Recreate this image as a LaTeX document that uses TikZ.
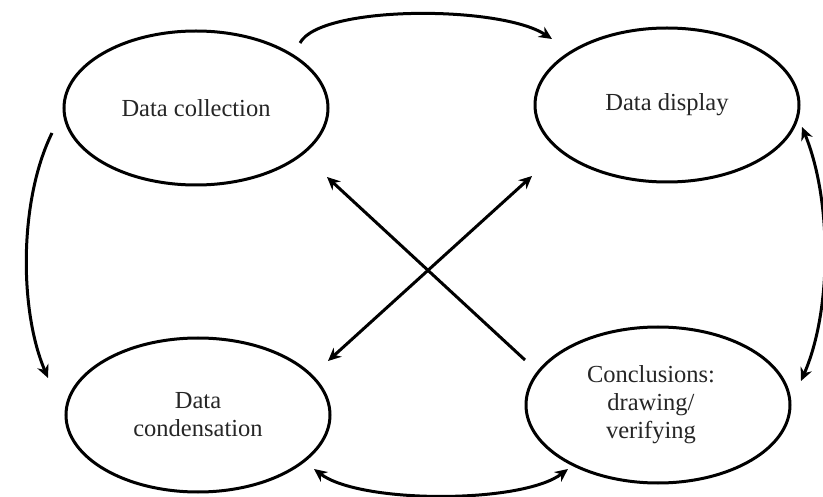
\documentclass[tikz,border=0pt]{standalone}
\usepackage{fontspec}
\setmainfont{Liberation Serif}
\usetikzlibrary{shapes.geometric,arrows.meta}
\tikzset{
  stage/.style={draw=black, line width=3pt, ellipse, inner sep=0pt,
    minimum width=264pt, minimum height=154pt, align=center,
    font=\fontsize{24.5}{28}\selectfont, text=black!85},
  flow/.style={line width=3pt, draw=black},
  tip/.style={-{Stealth[length=13pt,width=12pt]}},
  tips/.style={{Stealth[length=13pt,width=12pt]}-{Stealth[length=13pt,width=12pt]}}
}
\begin{document}
\begin{tikzpicture}[x=1pt,y=-1pt]
\useasboundingbox (0,0) rectangle (823,497);
\fill[white] (0,0) rectangle (823,497);

\node[stage] (e1) at (196,108) {Data collection};
\node[stage] (e2) at (667,105) {Data display};
\node[stage] (e3) at (198,415) {Data\\condensation};
\node[stage, minimum height=156pt] (e4) at (658,405) {\hspace*{-14pt}Conclusions:\\\hspace*{-14pt}drawing/\\\hspace*{-14pt}verifying};

% free ends of connectors
\coordinate (t1) at (300,43);
\coordinate (t2) at (552,39);
\coordinate (l1) at (52,133);
\coordinate (l2) at (48,378);
\coordinate (r1) at (802,127);
\coordinate (r2) at (801,381);
\coordinate (b1) at (314,469);
\coordinate (b2) at (568,469);
\coordinate (xa1) at (525,360);
\coordinate (xa2) at (327,177);
\coordinate (xb1) at (328,361);
\coordinate (xb2) at (532,176);

\draw[flow,tip] (t1) .. controls (320,5) and (500,5) .. (t2);
\draw[flow,tip] (l1) .. controls (19,200) and (19,310) .. (l2);
\draw[flow,tips] (r1) .. controls (832,200) and (832,310) .. (r2);
\draw[flow,tips] (b1) .. controls (360,504) and (522,504) .. (b2);
\draw[flow,tip] (xa1) -- (xa2);
\draw[flow,tips] (xb1) -- (xb2);
\end{tikzpicture}
\end{document}
